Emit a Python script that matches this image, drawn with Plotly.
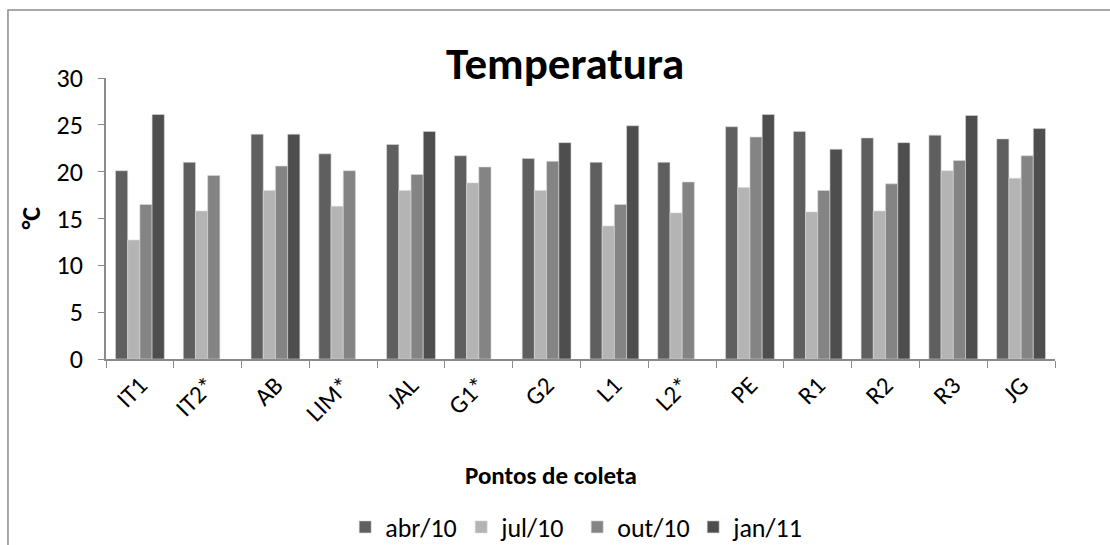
import plotly.graph_objects as go

# Sampling points and monthly water temperature (°C)
pontos = ["IT1", "IT2*", "AB", "LIM*", "JAL", "G1*", "G2", "L1", "L2*", "PE", "R1", "R2", "R3", "JG"]

abr_10 = [20.1, 21.0, 24.0, 21.9, 22.9, 21.7, 21.4, 21.0, 21.0, 24.8, 24.3, 23.6, 23.9, 23.5]
jul_10 = [12.7, 15.8, 18.0, 16.3, 18.0, 18.8, 18.0, 14.2, 15.6, 18.3, 15.7, 15.8, 20.1, 19.3]
out_10 = [16.5, 19.6, 20.6, 20.1, 19.7, 20.5, 21.1, 16.5, 18.9, 23.7, 18.0, 18.7, 21.2, 21.7]
jan_11 = [26.1, None, 24.0, None, 24.3, None, 23.1, 24.9, None, 26.1, 22.4, 23.1, 26.0, 24.6]

series = [
    ("abr/10", abr_10, "#5f5f5f"),
    ("jul/10", jul_10, "#b4b4b4"),
    ("out/10", out_10, "#848484"),
    ("jan/11", jan_11, "#4e4e4e"),
]

FONT = "Calibri, Carlito, Lato, sans-serif"

# invisible spacer that keeps y tick labels clear of the tick marks
Y_LABEL_PAD = '<span style="font-size:20px;color:rgba(0,0,0,0)">0</span>'

fig = go.Figure()
for name, vals, color in series:
    fig.add_trace(go.Bar(
        x=pontos, y=vals, name=name,
        marker=dict(color=color, line=dict(width=0.6, color="#d8d8d8")),
    ))

fig.update_layout(
    width=1110, height=545,
    margin=dict(l=106, r=55, t=78, b=186, autoexpand=False),
    paper_bgcolor="white", plot_bgcolor="white",
    font=dict(family=FONT, size=25, color="#000000"),
    barmode="group", bargap=0.28, bargroupgap=0,
    showlegend=True,
    legend=dict(
        orientation="h", x=0.4965, xanchor="center", y=-0.598, yanchor="middle",
        font=dict(size=26), itemwidth=30, tracegroupgap=0,
        entrywidth=71, entrywidthmode="pixels",
        traceorder="normal",
    ),
    xaxis=dict(
        showline=True, linecolor="#8a8a8a", linewidth=1.5,
        ticks="outside", tickson="boundaries", ticklen=7, tickcolor="#8a8a8a",
        tickangle=-45, tickfont=dict(size=25), showgrid=False,
    ),
    yaxis=dict(
        range=[0, 30], dtick=5, showline=True, linecolor="#8a8a8a", linewidth=1.5,
        ticks="outside", ticklen=6, tickcolor="#8a8a8a", showgrid=False,
        zeroline=False, tickfont=dict(size=26), ticksuffix=Y_LABEL_PAD,
    ),
    annotations=[
        dict(text="<b>Temperatura</b>", xref="paper", yref="paper",
             x=0.4837, y=1.05, xanchor="center", yanchor="middle",
             showarrow=False, font=dict(size=45)),
        dict(text="<b>°C</b>", xref="paper", yref="paper",
             x=-0.08, y=0.5, xanchor="center", yanchor="middle", textangle=-90,
             showarrow=False, font=dict(size=26)),
        dict(text="<b>Pontos de coleta</b>", xref="paper", yref="paper",
             x=0.469, y=-0.413, xanchor="center", yanchor="middle",
             showarrow=False, font=dict(size=25)),
    ],
    shapes=[
        dict(type="rect", xref="paper", yref="paper",
             x0=-0.1033, x1=1.2, y0=-0.8, y1=1.242,
             line=dict(color="#8c8c8c", width=1.5), layer="below"),
    ],
)

fig.write_html("out.html")
